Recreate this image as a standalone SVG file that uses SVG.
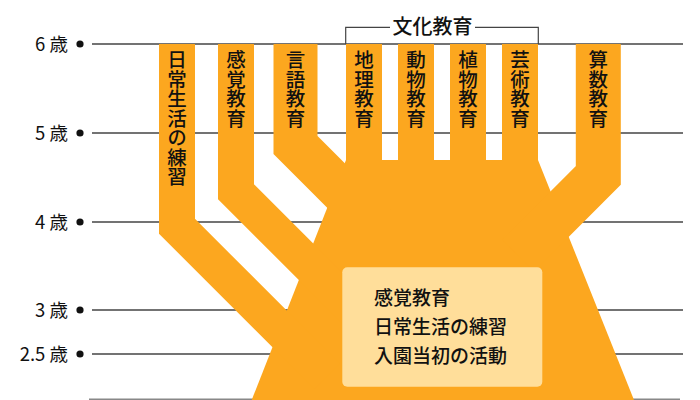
<svg xmlns="http://www.w3.org/2000/svg" width="700" height="400" viewBox="0 0 700 400">
<style>
.grid{stroke:#444;stroke-width:1.5;fill:none}
.age{font-family:"Noto Sans CJK JP","Noto Sans",sans-serif;font-size:18.5px;fill:#111;text-anchor:end}
.dot{fill:#111}
.band{fill:none;stroke:#FCA71F;stroke-linejoin:miter;stroke-miterlimit:10;stroke-linecap:butt}
.col{fill:#FCA71F}
.vt{font-family:"Noto Sans CJK JP",sans-serif;font-size:19.5px;fill:#111;writing-mode:vertical-rl;text-orientation:upright;font-weight:500}
.box{fill:#FFDE9A}
.bt{font-family:"Noto Sans CJK JP",sans-serif;font-size:19px;fill:#111;font-weight:500}
.br{stroke:#444;stroke-width:1.2;fill:none}
</style>
<g id="axis">
  <line class="grid" x1="92" y1="44" x2="683" y2="44"/>
  <line class="grid" x1="92" y1="133" x2="683" y2="133"/>
  <line class="grid" x1="92" y1="222" x2="683" y2="222"/>
  <line class="grid" x1="92" y1="310" x2="683" y2="310" stroke="#111"/>
  <line class="grid" x1="92" y1="354" x2="683" y2="354" stroke="#111"/>
  <line x1="89" y1="399.5" x2="680" y2="399.5" stroke="#888" stroke-width="2"/>
  <circle class="dot" cx="80" cy="44" r="3.6"/>
  <circle class="dot" cx="80" cy="133" r="3.6"/>
  <circle class="dot" cx="80" cy="222" r="3.6"/>
  <circle class="dot" cx="80" cy="310" r="3.6"/>
  <circle class="dot" cx="80" cy="354" r="3.6"/>
  <text class="age" x="68" y="50.5">6 歳</text>
  <text class="age" x="68" y="139.5">5 歳</text>
  <text class="age" x="68" y="228.5">4 歳</text>
  <text class="age" x="68" y="316.5">3 歳</text>
  <text class="age" x="68" y="360.5">2.5 歳</text>
</g>
<g id="connectors">
  <polygon id="trunk" class="col" points="346,160 538,160 634,400 251.7,400"/>
</g>
<g id="n-nichijo">
  <polyline class="band" stroke-width="36" points="177,44 177,226.3 327,376.3"/>
  <text class="vt" x="177" y="50">日常生活の練習</text>
</g>
<g id="n-kankaku">
  <polyline class="band" stroke-width="36" points="236,44 236,191.7 356,311.7"/>
  <text class="vt" x="236" y="50">感覚教育</text>
</g>
<g id="n-gengo">
  <polyline class="band" stroke-width="44" points="295.5,44 295.5,145 375.5,225"/>
  <text class="vt" x="295.5" y="50">言語教育</text>
</g>
<g id="n-chiri">
  <rect class="col" x="346" y="44" width="36" height="126"/>
  <text class="vt" x="364" y="50">地理教育</text>
</g>
<g id="n-dobutsu">
  <rect class="col" x="398" y="44" width="36" height="126"/>
  <text class="vt" x="416" y="50">動物教育</text>
</g>
<g id="n-shokubutsu">
  <rect class="col" x="450" y="44" width="36" height="126"/>
  <text class="vt" x="468" y="50">植物教育</text>
</g>
<g id="n-geijutsu">
  <rect class="col" x="502" y="44" width="36" height="126"/>
  <text class="vt" x="520" y="50">芸術教育</text>
</g>
<g id="n-sansu">
  <polyline class="band" stroke-width="45" points="598.3,44 598.3,175.5 518.3,255.5"/>
  <text class="vt" x="598.3" y="50">算数教育</text>
</g>
<g id="n-bunka">
  <polyline class="br" points="345.7,44 345.7,27.3 390,27.3"/>
  <polyline class="br" points="475,27.3 538.3,27.3 538.3,44"/>
  <text x="432.5" y="34" font-family="Noto Sans CJK JP, sans-serif" font-size="20" font-weight="500" fill="#111" text-anchor="middle">文化教育</text>
</g>
<g id="n-base">
  <rect class="box" x="342.3" y="267.3" width="200" height="119.4" rx="5"/>
  <text class="bt" x="374" y="305">感覚教育</text>
  <text class="bt" x="374" y="334">日常生活の練習</text>
  <text class="bt" x="374" y="363">入園当初の活動</text>
</g>
</svg>
